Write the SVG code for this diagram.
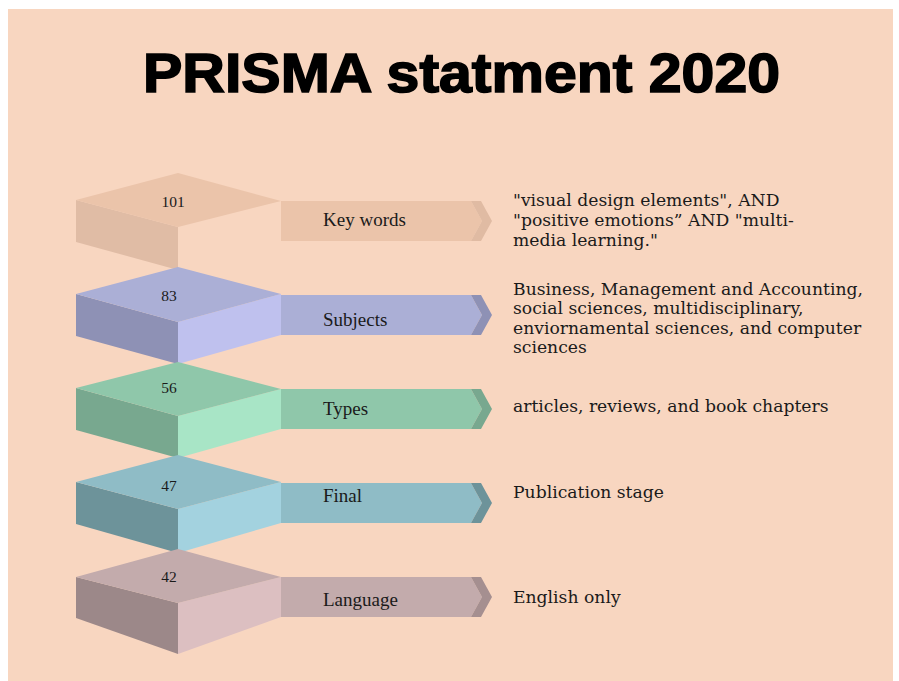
<svg xmlns="http://www.w3.org/2000/svg" width="899" height="681" viewBox="0 0 899 681">
<style>
.title{font-family:"Liberation Sans",Arial,sans-serif;font-weight:bold;font-size:55px;fill:#000;stroke:#000;stroke-width:1.6px}
.num{font-family:"Liberation Serif","Times New Roman",serif;font-size:15.5px;fill:#1a1a1a;text-anchor:middle}
.lbl{font-family:"Liberation Serif","Times New Roman",serif;font-size:19px;fill:#1a1a1a}
.desc{font-family:"DejaVu Serif",serif;font-size:17.2px;fill:#1a1a1a}
</style>
<rect x="0" y="0" width="899" height="681" fill="#ffffff"/>
<rect x="8" y="9" width="885" height="672" fill="#F8D6C0"/>
<text class="title" x="143" y="92" textLength="637" lengthAdjust="spacingAndGlyphs">PRISMA statment 2020</text>

<g id="node-keywords">
<polygon points="76,200 178,227 178,270 76,242" fill="#E0BCA5"/>
<polygon points="76,200 178,173 281,201 178,227" fill="#EBC4AA"/>
<polygon points="281,201 471,201 482,221 471,241 281,241" fill="#EBC4AA"/>
<polygon points="471,201 481,201 492,221 481,241 471,241 482,221" fill="#E0BBA3"/>
<text class="num" x="173" y="207">101</text>
<text class="lbl" x="323" y="226">Key words</text>
<text class="desc" x="513" y="206">"visual design elements", AND</text>
<text class="desc" x="513" y="226">"positive emotions” AND "multi-</text>
<text class="desc" x="513" y="246">media learning."</text>
</g>

<g id="node-subjects">
<polygon points="76,294 178,322 178,364 76,336" fill="#8E91B5"/>
<polygon points="178,322 281,294 281,335 178,364" fill="#BFC1EE"/>
<polygon points="76,294 178,267 281,294 178,322" fill="#ABAFD6"/>
<polygon points="281,295 471,295 482,315 471,335 281,335" fill="#ABAFD6"/>
<polygon points="471,295 481,295 492,315 481,335 471,335 482,315" fill="#8E91B5"/>
<text class="num" x="169" y="301">83</text>
<text class="lbl" x="323" y="326">Subjects</text>
<text class="desc" x="513" y="295">Business, Management and Accounting,</text>
<text class="desc" x="513" y="314">social sciences, multidisciplinary,</text>
<text class="desc" x="513" y="334">enviornamental sciences, and computer</text>
<text class="desc" x="513" y="353">sciences</text>
</g>

<g id="node-types">
<polygon points="76,388 178,416 178,458 76,430" fill="#78A88F"/>
<polygon points="178,416 281,389 281,429 178,458" fill="#A8E5C6"/>
<polygon points="76,388 178,362 281,389 178,416" fill="#8FC7AA"/>
<polygon points="281,389 471,389 482,409 471,429 281,429" fill="#8FC7AA"/>
<polygon points="471,389 481,389 492,409 481,429 471,429 482,409" fill="#78A88F"/>
<text class="num" x="169" y="393">56</text>
<text class="lbl" x="323" y="415">Types</text>
<text class="desc" x="513" y="412">articles, reviews, and book chapters</text>
</g>

<g id="node-final">
<polygon points="76,482 178,509 178,553 76,524" fill="#6D939A"/>
<polygon points="178,509 281,482 281,523 178,553" fill="#A3D2DF"/>
<polygon points="76,482 178,455 281,482 178,509" fill="#8FBCC6"/>
<polygon points="281,483 471,483 482,503 471,523 281,523" fill="#8FBCC6"/>
<polygon points="471,483 481,483 492,503 481,523 471,523 482,503" fill="#6D939A"/>
<text class="num" x="169" y="491">47</text>
<text class="lbl" x="323" y="502">Final</text>
<text class="desc" x="513" y="498">Publication stage</text>
</g>

<g id="node-language">
<polygon points="76,577 178,603 178,654 76,618" fill="#9C8889"/>
<polygon points="178,603 281,577 281,617 178,654" fill="#DCBFC1"/>
<polygon points="76,577 178,549 281,577 178,603" fill="#C3ABAC"/>
<polygon points="281,577 471,577 482,597 471,617 281,617" fill="#C3ABAC"/>
<polygon points="471,577 481,577 492,597 481,617 471,617 482,597" fill="#A58F90"/>
<text class="num" x="169" y="582">42</text>
<text class="lbl" x="323" y="606">Language</text>
<text class="desc" x="513" y="603">English only</text>
</g>
</svg>
